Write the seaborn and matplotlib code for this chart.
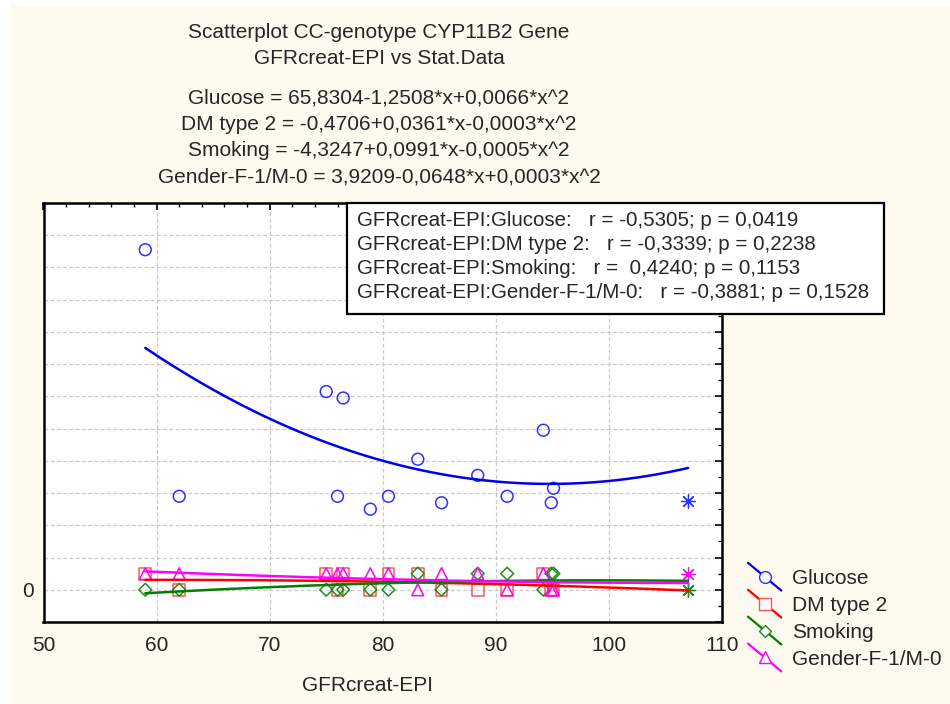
import numpy as np
import pandas as pd
import matplotlib
matplotlib.use("Agg")
import matplotlib.pyplot as plt
import seaborn as sns
from matplotlib.lines import Line2D
from matplotlib.legend_handler import HandlerLine2D
from matplotlib.patches import Rectangle
from matplotlib.ticker import MultipleLocator

# ---------------- data ----------------
gfr = [59.0, 62.0, 75.0, 76.0, 76.5, 78.9, 80.5, 83.1, 85.2, 88.4, 91.0, 94.2, 94.9, 95.1, 107.0]
glucose = [21.1, 5.8, 12.3, 5.8, 11.9, 5.0, 5.8, 8.1, 5.4, 7.1, 5.8, 9.9, 5.4, 6.3, 5.5]
dm_type2 = [1, 0, 1, 0, 1, 0, 1, 1, 0, 0, 0, 1, 0, 0, 0]
smoking = [0, 0, 0, 0, 0, 0, 0, 1, 0, 1, 1, 0, 1, 1, 0]
gender = [1, 1, 1, 1, 1, 1, 1, 0, 1, 1, 0, 1, 0, 0, 1]

series_names = ["Glucose", "DM type 2", "Smoking", "Gender-F-1/M-0"]
coef_glucose = [65.8304, -1.2508, 0.0066]
coef_dm = [-0.4706, 0.0361, -0.0003]
coef_smoking = [-4.3247, 0.0991, -0.0005]
coef_gender = [3.9209, -0.0648, 0.0003]
r_values = [-0.5305, -0.3339, 0.4240, -0.3881]
p_values = [0.0419, 0.2238, 0.1153, 0.1528]

title_lines = ["Scatterplot CC-genotype CYP11B2 Gene", "GFRcreat-EPI vs Stat.Data"]
x_label = "GFRcreat-EPI"

# ---------------- styling ----------------
sns.set_theme(style="white")
plt.rcParams["font.family"] = ["Liberation Sans", "DejaVu Sans"]
FS = 15
plt.rcParams["font.size"] = FS

line_colors = ["#0000EE", "#FF0000", "#008000", "#FF00FF"]
mark_colors = ["#3030FF", "#FF5555", "#1E8C1E", "#FF00FF"]
markers = ["o", "s", "D", "^"]
msizes = [8.5, 8.5, 6.5, 8.5]

values = [glucose, dm_type2, smoking, gender]
coefs = [coef_glucose, coef_dm, coef_smoking, coef_gender]

fig = plt.figure(figsize=(9.5, 7.04), dpi=100)
fig.patch.set_facecolor("white")
fig.patches.append(Rectangle((10 / 950, 0), 1, 1 - 5 / 704, transform=fig.transFigure,
                             facecolor="#FFFAF0", edgecolor="none", zorder=-10))

ax = fig.add_axes([43.5 / 950, 82 / 704, 678.5 / 950, 419 / 704])
ax.set_facecolor("white")

x_arr = np.array(gfr)
xs = np.linspace(x_arr.min(), x_arr.max(), 200)

handles = []
for name, vals, cf, lc, mc, mk, ms in zip(series_names, values, coefs, line_colors,
                                           mark_colors, markers, msizes):
    df = pd.DataFrame({"x": gfr, "y": vals})
    main = df.iloc[:-1]
    last = df.iloc[-1:]
    sns.scatterplot(data=main, x="x", y="y", ax=ax, marker=mk, s=ms ** 2,
                    facecolors="none", edgecolor=mc, linewidth=1.1, zorder=3, legend=False)
    sns.scatterplot(data=last, x="x", y="y", ax=ax, marker=(8, 2, 0), s=100,
                    color=mc, linewidth=0.9, zorder=3, legend=False)
    fit = pd.DataFrame({"x": xs, "y": cf[0] + cf[1] * xs + cf[2] * xs ** 2})
    sns.lineplot(data=fit, x="x", y="y", ax=ax, color=lc, linewidth=1.8, zorder=4, legend=False)
    handles.append(Line2D([], [], color=lc, lw=1.6, marker=mk, markersize=ms,
                          markerfacecolor="none", markeredgecolor=mc, label=name))

ax.set_xlim(50, 110)
ax.set_ylim(-2, 24)
ax.xaxis.set_major_locator(MultipleLocator(10))
ax.xaxis.set_minor_locator(MultipleLocator(2))
ax.yaxis.set_major_locator(MultipleLocator(2))
ax.yaxis.set_minor_locator(MultipleLocator(1))
ax.set_yticklabels(["0" if abs(t) < 1e-9 else "" for t in ax.get_yticks()])
ax.tick_params(which="both", direction="in", top=True, right=True, color="black", labelsize=FS)
ax.tick_params(which="major", length=5, width=1.2)
ax.tick_params(which="minor", length=3, width=1.0)
ax.tick_params(axis="x", which="major", pad=10)
ax.tick_params(axis="y", which="major", pad=7)
ax.grid(True, which="major", color="#C8C8C8", linestyle=(0, (3, 2)), linewidth=0.9)
for sp in ax.spines.values():
    sp.set_color("black")
    sp.set_linewidth(1.8)
ax.set_xlabel(x_label, fontsize=FS)
ax.xaxis.set_label_coords(0.478, -0.128)
ax.set_ylabel("")

# ---------------- titles ----------------
def fmt_eq(name, c):
    def num(v):
        return f"{abs(v):.4f}".replace(".", ",")
    s = f"{name} = " + ("-" if c[0] < 0 else "") + num(c[0])
    s += ("-" if c[1] < 0 else "+") + num(c[1]) + "*x"
    s += ("-" if c[2] < 0 else "+") + num(c[2]) + "*x^2"
    return s

cx = 379 / 950
for i, t in enumerate(title_lines):
    fig.text(cx, 1 - (33 + 25 * i) / 704, t, ha="center", va="center", fontsize=FS)
for i, (name, cf) in enumerate(zip(series_names, coefs)):
    fig.text(cx, 1 - (98 + 26.3 * i) / 704, fmt_eq(name, cf), ha="center", va="center", fontsize=FS)

# ---------------- stats box ----------------
fig.patches.append(Rectangle((347 / 950, 1 - 314 / 704), (884 - 347) / 950, (314 - 203) / 704,
                             transform=fig.transFigure, facecolor="white", edgecolor="black",
                             linewidth=1.6, zorder=5))
for i, (name, r, p) in enumerate(zip(series_names, r_values, p_values)):
    rs = f"{r:.4f}".replace(".", ",")
    if r >= 0:
        rs = " " + rs
    ps = f"{p:.4f}".replace(".", ",")
    line = f"GFRcreat-EPI:{name}:   r = {rs}; p = {ps}"
    fig.text(357 / 950, 1 - (220 + 24.3 * i) / 704, line, ha="left", va="center",
             fontsize=14.8, zorder=6)


# ---------------- legend ----------------
class SlantHandler(HandlerLine2D):
    def create_artists(self, legend, orig_handle, xdescent, ydescent, width, height,
                       fontsize, trans):
        x0, x1 = -xdescent, -xdescent + width
        y0 = -ydescent + height * 0.5 + 10
        y1 = -ydescent + height * 0.5 - 10
        ln = Line2D([x0, x1], [y0, y1], color=orig_handle.get_color(),
                    lw=orig_handle.get_linewidth())
        mk = Line2D([(x0 + x1) / 2], [(y0 + y1) / 2], marker=orig_handle.get_marker(),
                    markersize=orig_handle.get_markersize(), markerfacecolor="white",
                    markeredgecolor=orig_handle.get_markeredgecolor(), linestyle="none")
        ln.set_transform(trans)
        mk.set_transform(trans)
        return [ln, mk]


fig.legend(handles=handles, loc="upper left", bbox_to_anchor=(748 / 950, 1 - 569 / 704),
           frameon=False, fontsize=FS, handlelength=1.6, handletextpad=0.5,
           labelspacing=0.38, borderaxespad=0, borderpad=0,
           handler_map={Line2D: SlantHandler()})

fig.savefig("out.png", dpi=100, facecolor=fig.get_facecolor())
